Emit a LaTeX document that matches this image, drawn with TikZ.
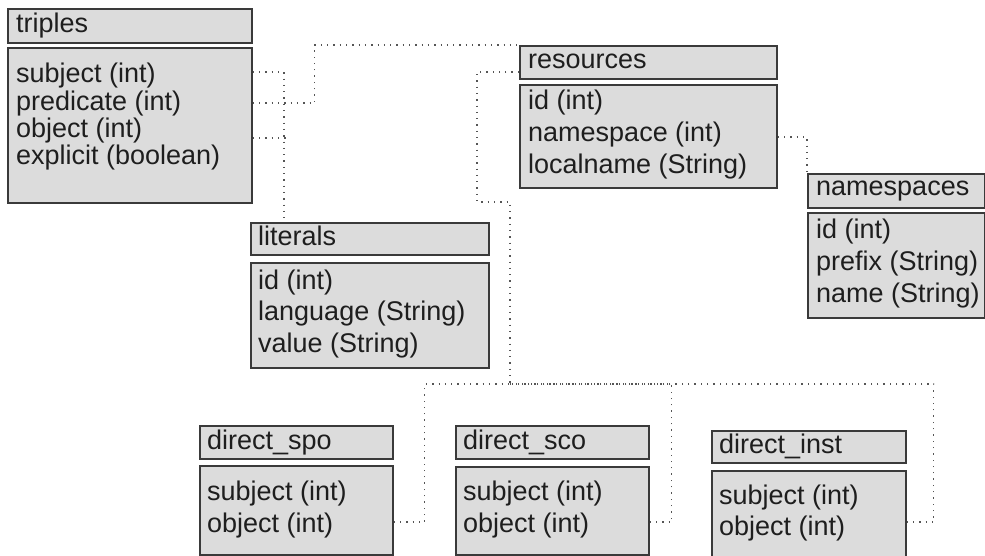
\documentclass[tikz,border=0pt]{standalone}
\usepackage{fontspec}
\setmainfont{Liberation Sans}
\definecolor{boxfill}{HTML}{DCDCDC}
\definecolor{boxline}{HTML}{3A3A3A}
\definecolor{ink}{HTML}{1E1E1E}
\definecolor{linkgray}{HTML}{555555}
\tikzset{
  tablebox/.style={draw=boxline, fill=boxfill, line width=1.8pt, anchor=north west, inner sep=0pt},
  field/.style={anchor=base west, inner sep=0pt, text=ink, font=\fontsize{27pt}{32pt}\selectfont},
  link/.style={draw=linkgray, line width=1.3pt, dash pattern=on 1.3pt off 5pt}
}
\begin{document}
\begin{tikzpicture}[x=1pt, y=-1pt]
\useasboundingbox (0,0) rectangle (985,556);

% ---- triples ----
\node[tablebox, minimum width=244pt, minimum height=34pt] (th) at (7,8) {};
\node[tablebox, minimum width=244pt, minimum height=155pt] (tb) at (7,47) {};
\node[field] (th-t) at (16,33) {triples};
\foreach \y/\t [count=\i] in {83/subject (int), 111/predicate (int), 138/object (int), 165/explicit (boolean)}
  \node[field] (tf\i) at (16,\y) {\t};

% ---- resources ----
\node[tablebox, minimum width=257pt, minimum height=33pt] (rh) at (519,45) {};
\node[tablebox, minimum width=257pt, minimum height=103pt] (rb) at (519,84) {};
\node[field] (rh-t) at (528,69) {resources};
\foreach \y/\t [count=\i] in {110/id (int), 142/namespace (int), 174/localname (String)}
  \node[field] (rf\i) at (528,\y) {\t};

% ---- literals ----
\node[tablebox, minimum width=238pt, minimum height=32pt] (lh) at (250,222) {};
\node[tablebox, minimum width=238pt, minimum height=105pt] (lb) at (250,262) {};
\node[field] (lh-t) at (258,245) {literals};
\foreach \y/\t [count=\i] in {289/id (int), 320/language (String), 352/value (String)}
  \node[field] (lf\i) at (258,\y) {\t};

% ---- namespaces ----
\node[tablebox, minimum width=177pt, minimum height=34pt] (nh) at (807,173) {};
\node[tablebox, minimum width=177pt, minimum height=105pt] (nb) at (807,212) {};
\node[field] (nh-t) at (816,196) {namespaces};
\foreach \y/\t [count=\i] in {239/id (int), 270/prefix (String), 302/name (String)}
  \node[field] (nf\i) at (816,\y) {\t};

% ---- direct_spo ----
\node[tablebox, minimum width=193pt, minimum height=33pt] (sph) at (199,425) {};
\node[tablebox, minimum width=193pt, minimum height=89pt] (spb) at (199,465) {};
\node[field] (sph-t) at (207,449) {direct\_spo};
\foreach \y/\t [count=\i] in {500/subject (int), 532/object (int)}
  \node[field] (spf\i) at (207,\y) {\t};

% ---- direct_sco ----
\node[tablebox, minimum width=193pt, minimum height=33pt] (sch) at (455,425) {};
\node[tablebox, minimum width=193pt, minimum height=88pt] (scb) at (455,466) {};
\node[field] (sch-t) at (463,449) {direct\_sco};
\foreach \y/\t [count=\i] in {500/subject (int), 532/object (int)}
  \node[field] (scf\i) at (463,\y) {\t};

% ---- direct_inst ----
\node[tablebox, minimum width=194pt, minimum height=32pt] (ih) at (711,430) {};
\node[tablebox, minimum width=194pt, minimum height=92pt] (ib) at (711,470) {};
\node[field] (ih-t) at (719,453) {direct\_inst};
\foreach \y/\t [count=\i] in {504/subject (int), 535/object (int)}
  \node[field] (if\i) at (719,\y) {\t};

% ---- dotted relations ----
% subject / object of triples down to literals
\draw[link] ([yshift=-25pt]tb.north east) -| ([xshift=34pt]lh.north west);
\draw[link] ([yshift=-91pt]tb.north east) -- ++(33,0);
% predicate of triples up to resources
\draw[link] ([yshift=-56pt]tb.north east) -- ++(62,0) |- (rh.north west);
% resources.namespace to namespaces
\draw[link] ([yshift=-53pt]rb.north east) -| (nh.north west);
% resources down to the direct_* tables
\coordinate (hub) at (510,384);
\draw[link] ([yshift=-27pt]rh.north west) -- ++(-42,0) -- ++(0,130) -| (hub);
\draw[link] ([yshift=-57pt]spb.north east) -- ++(31,0) |- (hub);
\draw[link] ([yshift=-56pt]scb.north east) -- ++(22,0) |- (hub);
\draw[link] ([yshift=-52pt]ib.north east) -- ++(27,0) |- (hub);
\end{tikzpicture}
\end{document}
